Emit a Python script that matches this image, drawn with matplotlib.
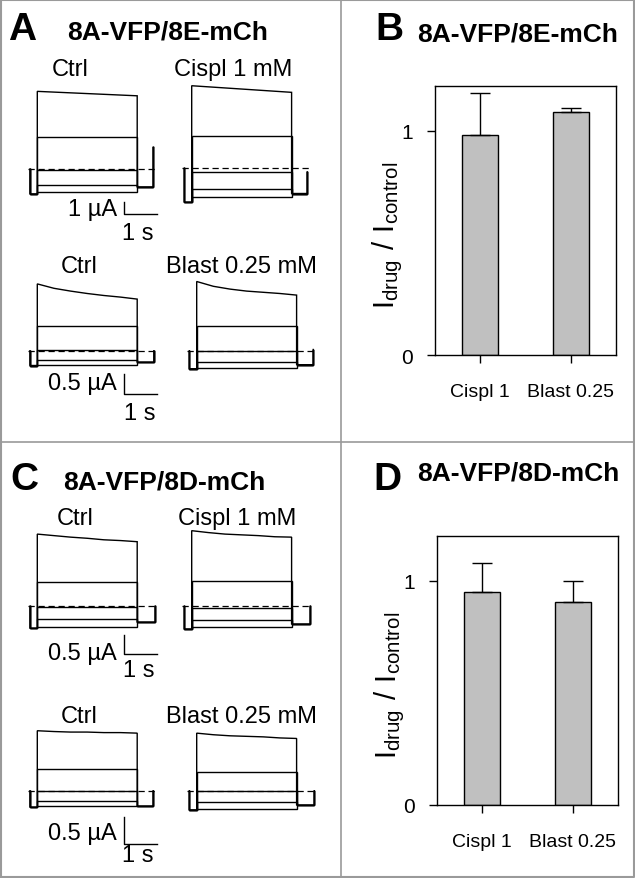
import numpy as np
import matplotlib.pyplot as plt
from matplotlib.lines import Line2D

plt.rcParams['font.family'] = ['Liberation Sans', 'DejaVu Sans']

W, H = 635, 879
PPS = 33.3  # pixels par seconde

# --- données des histogrammes (I_drug / I_control) ---
bar_labels = ['Cispl 1', 'Blast 0.25']
ratio_B = [0.983, 1.083]
err_B = [0.184, 0.017]
ratio_D = [0.948, 0.904]
err_D = [0.133, 0.096]

# --- traces de courant (µA), temps du créneau en s ---
step_t = [0, 0.5, 1, 1.5, 2, 2.5, 3]
A_ctrl1 = [[6.47, 6.10], [2.69, 2.69], [-0.05, -0.05], [-1.33, -1.33], [-1.89, -1.89]]
A_cispl = [[6.88, 6.33], [2.67, 2.67], [-0.33, -0.33], [-1.72, -1.72], [-2.42, -2.42]]
A_ctrl2 = [[1.67, 1.56, 1.49, 1.43, 1.38, 1.34, 1.29], [0.63, 0.63], [0.02, 0.02], [-0.23, -0.23], [-0.36, -0.36]]
A_blast = [[1.73, 1.61, 1.54, 1.49, 1.46, 1.43, 1.39], [0.63, 0.63], [0.0, 0.0], [-0.27, -0.27], [-0.43, -0.43]]
C_ctrl1 = [[1.90, 1.86, 1.82, 1.79, 1.75, 1.73, 1.70], [0.63, 0.63], [-0.03, -0.03], [-0.33, -0.33], [-0.54, -0.54]]
C_cispl = [[1.99, 1.94, 1.90, 1.88, 1.86, 1.83, 1.82], [0.67, 0.67], [-0.04, -0.04], [-0.35, -0.35], [-0.55, -0.55]]
C_ctrl2 = [[1.125, 1.11, 1.10, 1.10, 1.09, 1.09, 1.08], [0.41, 0.41], [0.0, 0.0], [-0.19, -0.19], [-0.29, -0.29]]
C_blast = [[1.08, 1.05, 1.03, 1.02, 1.01, 0.99, 0.98], [0.36, 0.36], [0.0, 0.0], [-0.22, -0.22], [-0.34, -0.34]]

traces = [A_ctrl1, A_cispl, A_ctrl2, A_blast, C_ctrl1, C_cispl, C_ctrl2, C_blast]
holding = [-2.08, -2.83, -0.37, -0.45, -0.58, -0.60, -0.31, -0.36]
tail_level = [-1.5, -2.1, -0.29, -0.35, -0.42, -0.47, -0.29, -0.27]
tail_end = [3.48, 3.47, 3.5, 3.5, 3.54, 3.56, 3.48, 3.53]
tail_top = [1.8, -0.3, 0.0, 0.03, 0.0, 0.0, 0.0, 0.0]
trace_titles = ['Ctrl', 'Cispl 1 mM', 'Ctrl', 'Blast 0.25 mM', 'Ctrl', 'Cispl 1 mM', 'Ctrl', 'Blast 0.25 mM']
scale_ua = [1, 0.5, 0.5, 0.5]
scale_txt = ['1 µA', '0.5 µA', '0.5 µA', '0.5 µA']

fig = plt.figure(figsize=(W / 100, H / 100), dpi=100)


def fx(x):
    return x / W


def fy(y):
    return 1 - y / H


# position de chaque trace : début du créneau (px), ligne zéro (px), px par µA
trace_pos = [(37.3, 170, 12), (191.7, 169.3, 12), (37.3, 351.7, 40), (196.7, 351.7, 40),
             (37.3, 607.3, 38), (191.7, 607.3, 38), (37.3, 791.7, 53.3), (196.7, 791.7, 53.3)]
title_pos = [(70, 76), (233, 76), (79, 273), (241, 273), (75, 525), (237, 525), (79, 723), (241, 723)]
# barre d'échelle : bas de la barre (µA), position des textes
bar_bottom = [-3.75, -1.08, -1.25, -1.0]
lab_pos = [((117, 216), (138, 240)), ((117, 390), (140, 420)),
           ((117, 660), (139, 677)), ((117, 840), (138, 862))]

for i, sw in enumerate(traces):
    x_on, y0, ppu = trace_pos[i]
    left, right, top, bot = x_on - 15, x_on + 130, y0 - 100, y0 + 65
    ax = fig.add_axes([fx(left), fy(bot), (right - left) / W, (bot - top) / H])
    ax.set_xlim(-15 / PPS, 130 / PPS)
    ax.set_ylim(-65 / ppu, 100 / ppu)
    ax.axis('off')
    ax.patch.set_visible(False)
    t0 = -0.22
    for s in sw:
        ts = step_t if len(s) == len(step_t) else [0, 3]
        xs = [t0, t0, 0] + list(ts) + [3, tail_end[i], tail_end[i]]
        ys = [0, holding[i], holding[i]] + list(s) + [tail_level[i], tail_level[i], tail_top[i]]
        ax.plot(xs, ys, color='k', lw=1.0, solid_joinstyle='miter')
    ax.plot([-0.28, 3.62], [0, 0], color='k', lw=0.9, ls=(0, (5, 3)))
    tx, ty = title_pos[i]
    fig.text(fx(tx), fy(ty), trace_titles[i], ha='center', va='baseline', fontsize=17)
    if i % 2 == 0:
        k = i // 2
        b = bar_bottom[k]
        ax.plot([2.6, 2.6, 3.6], [b + scale_ua[k], b, b], color='k', lw=1.0)
        (ux, uy), (sx, sy) = lab_pos[k]
        fig.text(fx(ux), fy(uy), scale_txt[k], ha='right', va='baseline', fontsize=17)
        fig.text(fx(sx), fy(sy), '1 s', ha='center', va='baseline', fontsize=17)


def bar_panel(l, r, t, b, vals, errs):
    ax = fig.add_axes([fx(l), fy(b), (r - l) / W, (b - t) / H])
    x = np.arange(len(vals))
    ax.bar(x, vals, width=0.4, color='#c0c0c0', edgecolor='black', linewidth=1)
    ax.errorbar(x, vals, yerr=[np.zeros(len(errs)), errs], fmt='none', ecolor='black',
                elinewidth=1, capsize=7, capthick=1)
    ax.set_xlim(-0.5, 1.5)
    ax.set_ylim(0, 1.2)
    ax.set_yticks([0, 1])
    ax.set_yticklabels(['0', '1'])
    ax.set_xticks(x)
    ax.set_xticklabels(bar_labels)
    ax.tick_params(direction='out', length=6, width=1)
    ax.tick_params(axis='y', pad=10, labelsize=15)
    ax.tick_params(axis='x', pad=14, labelsize=14)
    ax.set_ylabel(r'$\mathregular{I_{drug}\ /\ I_{control}}$', fontsize=21)
    ax.yaxis.set_label_coords(-0.165, 0.45)
    for sp in ax.spines.values():
        sp.set_linewidth(1)
    return ax


bar_panel(435, 616, 87, 356, ratio_B, err_B)
bar_panel(437, 618, 537, 806, ratio_D, err_D)

# lettres et titres des panneaux
for lt, (lx, ly) in zip('ABCD', [(8, 40), (375, 40), (10, 490), (373, 490)]):
    fig.text(fx(lx), fy(ly), lt, ha='left', va='baseline', fontsize=28, fontweight='bold')
for tt, (lx, ly) in zip(['8A-VFP/8E-mCh', '8A-VFP/8E-mCh', '8A-VFP/8D-mCh', '8A-VFP/8D-mCh'],
                        [(67, 40), (417, 42), (63, 490), (417, 481)]):
    fig.text(fx(lx), fy(ly), tt, ha='left', va='baseline', fontsize=19, fontweight='bold')

# cadres gris
gris = '#9a9a9a'
fig.add_artist(Line2D([fx(341), fx(341)], [0, 1], color=gris, lw=1.2))
fig.add_artist(Line2D([0, 1], [fy(443), fy(443)], color=gris, lw=1.2))
fig.add_artist(Line2D([0.001, 0.999, 0.999, 0.001, 0.001], [0.001, 0.001, 0.999, 0.999, 0.001],
                      color=gris, lw=1.5))

fig.savefig('out.png', dpi=100)
